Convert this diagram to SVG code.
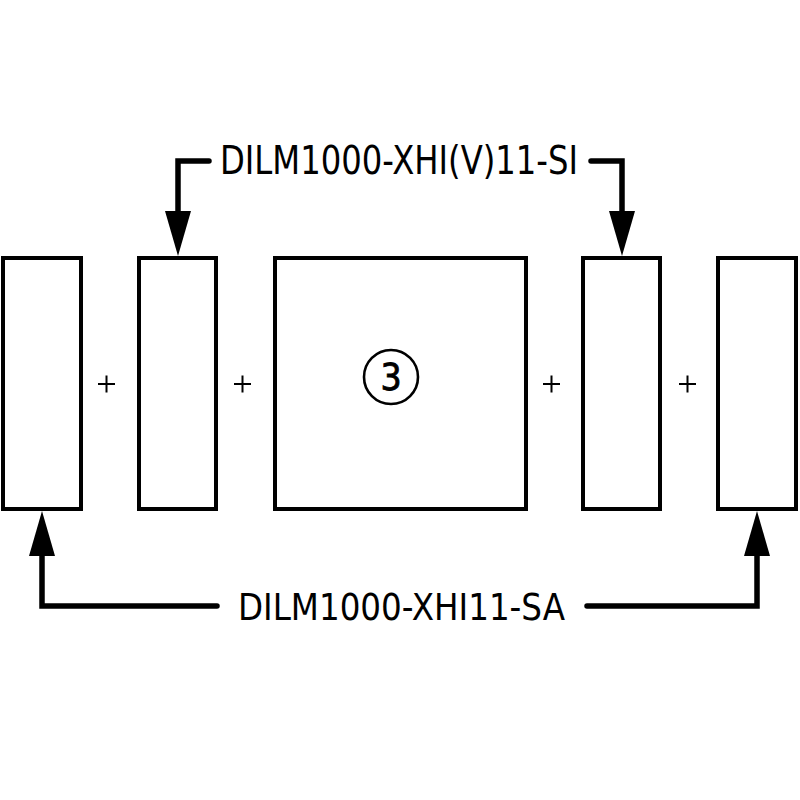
<svg xmlns="http://www.w3.org/2000/svg" width="800" height="800" viewBox="0 0 800 800">
<style>
.box{fill:#fff;stroke:#000;stroke-width:4}
.lbl{font-family:"Liberation Sans Narrow","DejaVu Sans Condensed","Liberation Sans",sans-serif;fill:#000}
.plus{stroke:#000;stroke-width:2;fill:none}
.wire{fill:none;stroke:#000;stroke-width:5.5;stroke-linecap:round;stroke-linejoin:miter}
.head{fill:#000}
</style>
<rect width="800" height="800" fill="#fff"/>
<g id="node-1"><rect class="box" x="3" y="258" width="78" height="251"/></g>
<g id="node-2"><rect class="box" x="139" y="258" width="77" height="251"/></g>
<g id="node-3"><rect class="box" x="275" y="258" width="251" height="251"/>
<circle cx="391" cy="377" r="27" fill="none" stroke="#000" stroke-width="2.6"/>
<text class="lbl" x="391" y="390" font-size="37" text-anchor="middle" stroke="#000" stroke-width="0.8">3</text></g>
<g id="node-4"><rect class="box" x="583" y="258" width="77" height="251"/></g>
<g id="node-5"><rect class="box" x="718" y="258" width="78" height="251"/></g>
<g id="plus-signs">
<path class="plus" d="M98,384h17M106.5,375.5v17"/>
<path class="plus" d="M234,384h17M242.5,375.5v17"/>
<path class="plus" d="M543,384h17M551.5,375.5v17"/>
<path class="plus" d="M679,384h17M687.5,375.5v17"/>
</g>
<g id="connectors">
<path class="wire" d="M209,161H178V214"/>
<polygon class="head" points="165,211 191,211 178,256"/>
<path class="wire" d="M591,161H622V214"/>
<polygon class="head" points="609,211 635,211 622,256"/>
<path class="wire" d="M217,606H42V553"/>
<polygon class="head" points="29,556 55,556 42,511"/>
<path class="wire" d="M587,606H757V553"/>
<polygon class="head" points="744,556 770,556 757,511"/>
</g>
<g id="labels">
<text class="lbl" x="220" y="174" font-size="39" textLength="358" lengthAdjust="spacingAndGlyphs">DILM1000-XHI(V)11-SI</text>
<text class="lbl" x="238" y="620" font-size="38" textLength="327" lengthAdjust="spacingAndGlyphs">DILM1000-XHI11-SA</text>
</g>
</svg>
